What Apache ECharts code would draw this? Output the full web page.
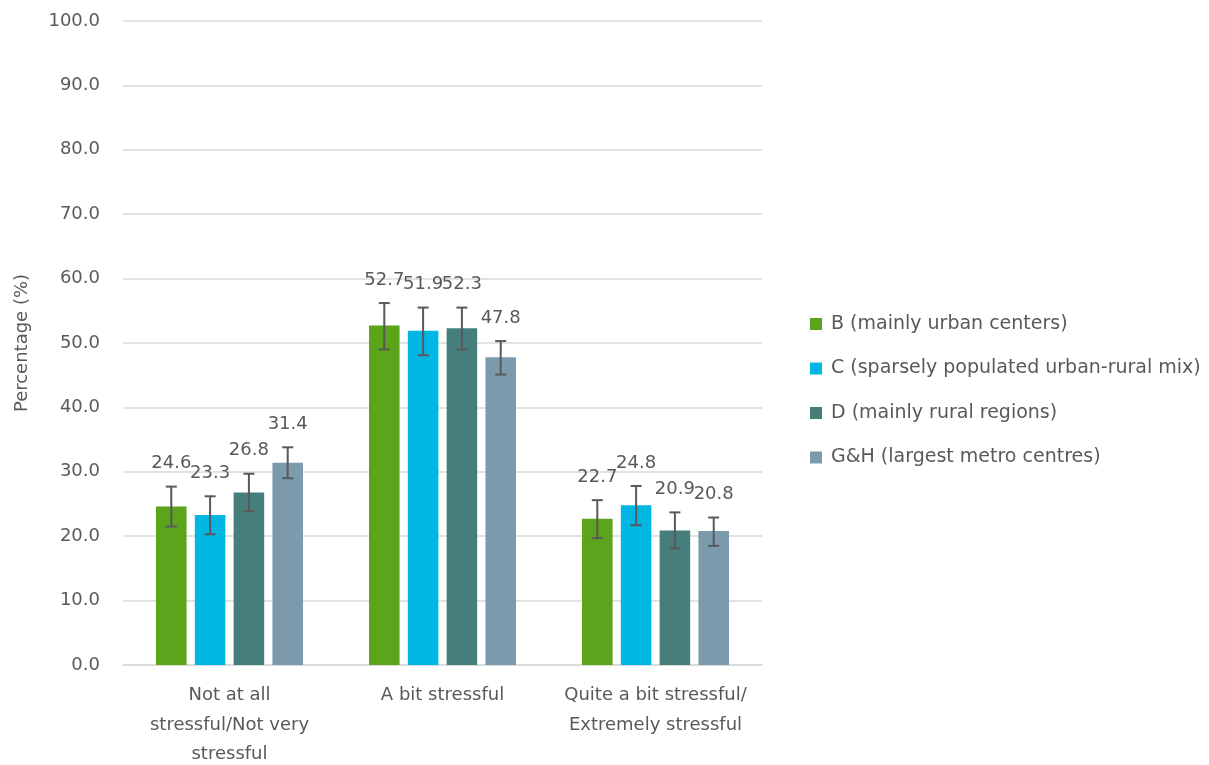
<!DOCTYPE html>
<html><head><meta charset="utf-8">
<script src="https://cdn.jsdelivr.net/npm/echarts@6/dist/echarts.min.js"></script>
<style>html,body{margin:0;padding:0;background:#fff;overflow:hidden}#c{width:1209px;height:765px}</style>
</head><body><div id="c"></div>
<script>
const categories = ['Not at all\nstressful/Not very\nstressful', 'A bit stressful', 'Quite a bit stressful/\nExtremely stressful'];
const seriesNames = ['B (mainly urban centers)', 'C (sparsely populated urban-rural mix)', 'D (mainly rural regions)', 'G&H (largest metro centres)'];
const valuesB = [24.6, 52.7, 22.7];
const valuesC = [23.3, 51.9, 24.8];
const valuesD = [26.8, 52.3, 20.9];
const valuesGH = [31.4, 47.8, 20.8];
const lowB = [21.5, 49.0, 19.7];
const highB = [27.7, 56.2, 25.6];
const lowC = [20.3, 48.1, 21.7];
const highC = [26.2, 55.5, 27.8];
const lowD = [23.9, 49.0, 18.1];
const highD = [29.7, 55.5, 23.7];
const lowGH = [29.0, 45.1, 18.5];
const highGH = [33.8, 50.3, 22.9];
const colors = ['#5BA41B', '#00B7E3', '#467E7C', '#7B9BAD'];

const values = [valuesB, valuesC, valuesD, valuesGH];
const lows = [lowB, lowC, lowD, lowGH];
const highs = [highB, highC, highD, highGH];

const CAT_GAP = 0.31, BAR_GAP = 0.27, N = 4;
const FONT = '"DejaVu Sans", sans-serif';
const FS = 18;
const TXT = '#595959';

const series = [];
values.forEach((v, i) => {
  series.push({
    name: seriesNames[i], type: 'bar', data: v,
    itemStyle: { color: colors[i] },
    barGap: (BAR_GAP * 100) + '%', barCategoryGap: (CAT_GAP * 100) + '%'
  });
});
values.forEach((v, i) => {
  series.push({
    type: 'custom', name: 'err' + i, z: 10,
    data: v.map((val, k) => [k, lows[i][k], highs[i][k], val]),
    renderItem: function (params, api) {
      const k = api.value(0);
      const catW = api.size([1, 0])[0];
      const band = catW * (1 - CAT_GAP);
      const w = band / (N + (N - 1) * BAR_GAP);
      const c = api.coord([k, 0]);
      const x = c[0] - band / 2 + w / 2 + i * w * (1 + BAR_GAP);
      const yl = api.coord([k, api.value(1)])[1];
      const yh = api.coord([k, api.value(2)])[1];
      const cap = 5.5;
      const st = { stroke: '#595959', lineWidth: 2 };
      return { type: 'group', children: [
        { type: 'line', shape: { x1: x, y1: yl, x2: x, y2: yh }, style: st },
        { type: 'line', shape: { x1: x - cap, y1: yl, x2: x + cap, y2: yl }, style: st },
        { type: 'line', shape: { x1: x - cap, y1: yh, x2: x + cap, y2: yh }, style: st },
        { type: 'text', x: x, y: yh - 14, style: { text: api.value(3).toFixed(1), fill: TXT, font: FS + 'px ' + FONT, align: 'center', verticalAlign: 'bottom' } }
      ]};
    }
  });
});

const chart = echarts.init(document.getElementById('c'));
chart.setOption({
  animation: false,
  textStyle: { fontFamily: FONT },
  grid: { left: 123, right: 447, top: 21, bottom: 100, containLabel: false, outerBoundsMode: 'none' },
  legend: {
    data: seriesNames, orient: 'vertical', left: 805, top: 309,
    itemWidth: 12, itemHeight: 12, itemGap: 24.5, icon: 'rect',
    textStyle: { color: TXT, fontSize: 19, fontFamily: FONT, lineHeight: 20, padding: [0, 0, 0, 4] }
  },
  xAxis: {
    type: 'category', data: categories,
    axisLine: { lineStyle: { color: '#d9d9d9', width: 1.5 } },
    axisTick: { show: false },
    axisLabel: { color: TXT, fontSize: FS, fontFamily: FONT, lineHeight: 29.5, margin: 16, interval: 0 }
  },
  yAxis: {
    type: 'value', min: 0, max: 100, interval: 10,
    name: 'Percentage (%)', nameLocation: 'middle', nameGap: 92, nameRotate: 90,
    nameTextStyle: { color: TXT, fontSize: FS, fontFamily: FONT },
    axisLabel: { color: TXT, fontSize: FS, fontFamily: FONT, margin: 23, formatter: v => v.toFixed(1) },
    splitLine: { lineStyle: { color: '#d9d9d9', width: 1.5 } },
    axisLine: { show: false }, axisTick: { show: false }
  },
  series: series
});
</script></body></html>
